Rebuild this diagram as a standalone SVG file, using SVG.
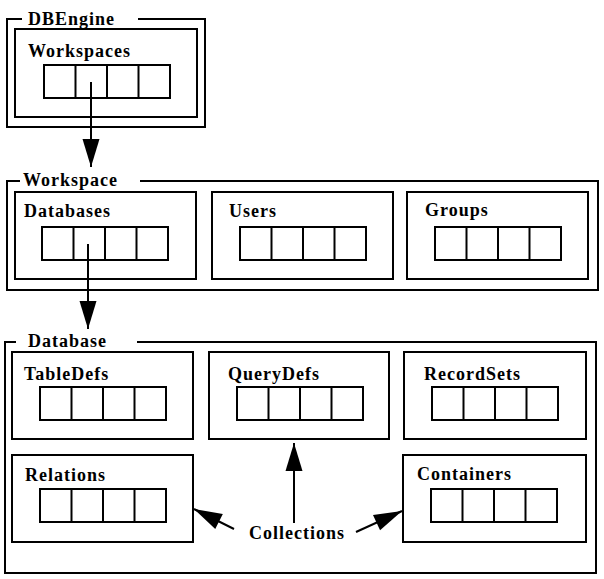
<svg xmlns="http://www.w3.org/2000/svg" xmlns:xlink="http://www.w3.org/1999/xlink" width="604" height="579" viewBox="0 0 604 579">
<style>
.fr{fill:none;stroke:#000;stroke-width:2}
.bx{fill:#fff;stroke:#000;stroke-width:2}
.t{font-family:"Liberation Serif","Times New Roman",serif;font-weight:bold;font-size:18px;letter-spacing:1px;fill:#000}
.ln{stroke:#000;stroke-width:2;fill:none}
</style>
<defs>
<g id="cells">
<rect x="0" y="0" width="126" height="33" class="bx"/>
<line x1="31.5" y1="0" x2="31.5" y2="33" class="ln"/>
<line x1="63" y1="0" x2="63" y2="33" class="ln"/>
<line x1="94.5" y1="0" x2="94.5" y2="33" class="ln"/>
</g>
<marker id="ah" markerUnits="userSpaceOnUse" markerWidth="30" markerHeight="18" refX="28" refY="8.5" orient="auto" overflow="visible">
<path d="M0,0 L28,8.5 L0,17 Z" fill="#000"/>
</marker>
</defs>
<rect width="604" height="579" fill="#fff"/>

<g id="DBEngine">
<path class="fr" d="M22,19 H7 V127 H205 V19 H138"/>
<text class="t" x="28" y="25">DBEngine</text>
<g id="Workspaces">
<rect class="fr" x="15" y="29" width="182" height="88"/>
<text class="t" x="28" y="57">Workspaces</text>
<use xlink:href="#cells" x="44" y="65"/>
</g>
</g>

<g id="Workspace">
<path class="fr" d="M20,181 H7 V290 H598 V181 H140"/>
<text class="t" x="23" y="186">Workspace</text>
<g id="Databases">
<rect class="fr" x="15" y="192" width="181" height="87"/>
<text class="t" x="24" y="217">Databases</text>
<use xlink:href="#cells" x="42" y="227"/>
</g>
<g id="Users">
<rect class="fr" x="212" y="192" width="181" height="87"/>
<text class="t" x="229" y="217">Users</text>
<use xlink:href="#cells" x="240" y="227"/>
</g>
<g id="Groups">
<rect class="fr" x="407" y="192" width="181" height="87"/>
<text class="t" x="425" y="216">Groups</text>
<use xlink:href="#cells" x="435" y="227"/>
</g>
</g>

<g id="Database">
<path class="fr" d="M16,342 H5 V573 H596 V342 H137"/>
<text class="t" x="28" y="347">Database</text>
<g id="TableDefs">
<rect class="fr" x="12" y="352" width="181" height="87"/>
<text class="t" x="24" y="380">TableDefs</text>
<use xlink:href="#cells" x="40" y="387"/>
</g>
<g id="QueryDefs">
<rect class="fr" x="209" y="352" width="180" height="87"/>
<text class="t" x="228" y="380">QueryDefs</text>
<use xlink:href="#cells" x="237" y="387"/>
</g>
<g id="RecordSets">
<rect class="fr" x="404" y="352" width="182" height="87"/>
<text class="t" x="424" y="380">RecordSets</text>
<use xlink:href="#cells" x="432" y="387"/>
</g>
<g id="Relations">
<rect class="fr" x="12" y="455" width="181" height="87"/>
<text class="t" x="25" y="481">Relations</text>
<use xlink:href="#cells" x="40" y="489"/>
</g>
<g id="Containers">
<rect class="fr" x="403" y="455" width="183" height="87"/>
<text class="t" x="417" y="480">Containers</text>
<use xlink:href="#cells" x="431" y="489"/>
</g>
<g id="Collections">
<text class="t" x="249" y="539">Collections</text>
</g>
</g>

<g id="connectors">
<line class="ln" x1="91" y1="82" x2="91" y2="167" marker-end="url(#ah)"/>
<line class="ln" x1="88" y1="244" x2="88" y2="329" marker-end="url(#ah)"/>
<line class="ln" x1="294" y1="523" x2="294" y2="443" marker-end="url(#ah)"/>
<line class="ln" x1="234" y1="529" x2="194" y2="509" marker-end="url(#ah)"/>
<line class="ln" x1="356" y1="532" x2="402" y2="511" marker-end="url(#ah)"/>
</g>
</svg>
